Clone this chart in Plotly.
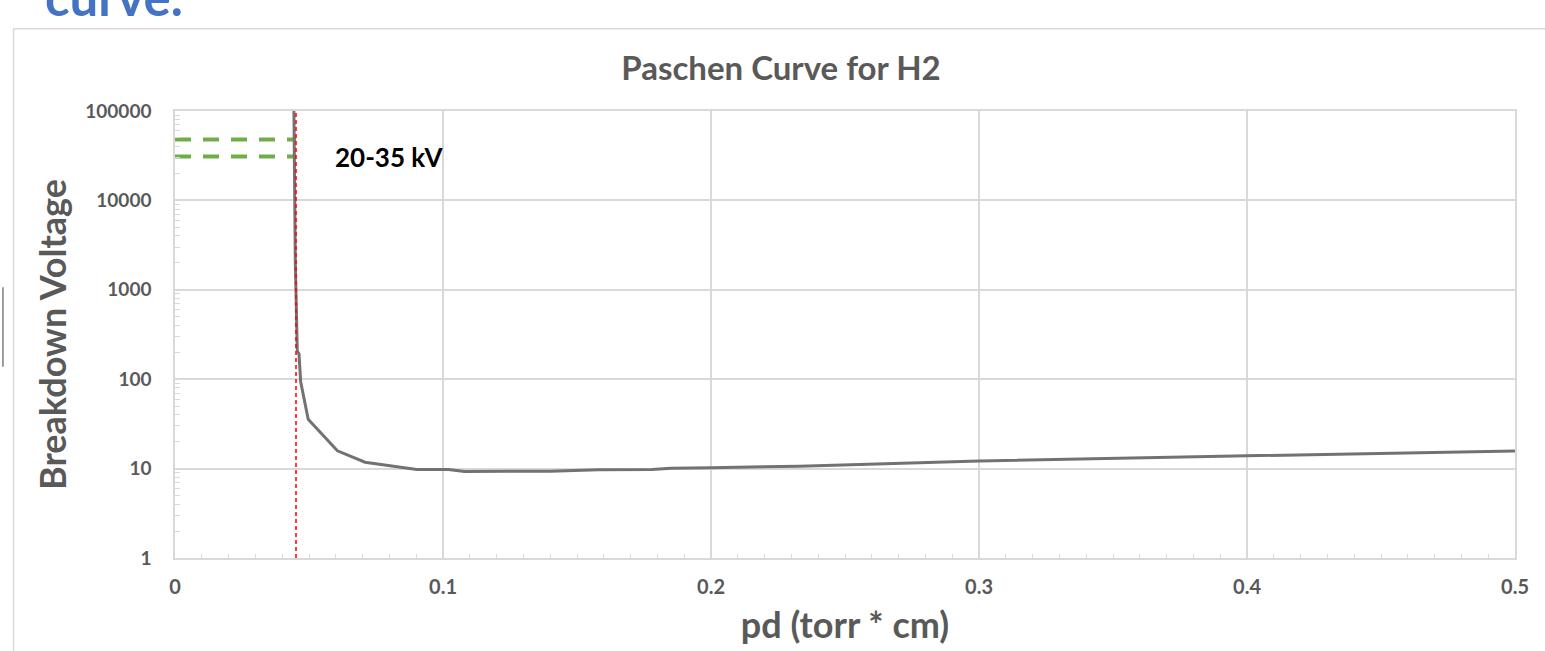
import plotly.graph_objects as go

# ---- data ----
pd_values = [0.04435, 0.04489, 0.04563, 0.04627, 0.0469, 0.0497, 0.0606, 0.0709,
             0.0902, 0.102, 0.108, 0.140, 0.158, 0.178, 0.185, 0.200, 0.233,
             0.300, 0.400, 0.500]
breakdown_v = [120000, 2030, 207, 192, 93.5, 35.6, 15.8, 11.8,
               9.8, 9.75, 9.3, 9.35, 9.7, 9.8, 10.1, 10.2, 10.65,
               12.2, 13.9, 15.7]

marker_x = [0.04515, 0.04515]
marker_y = [1, 100000]

green_x = [0.0, 0.0452]
green_upper = [48000, 48000]
green_lower = [31000, 31000]

y_tickvals = [1, 10, 100, 1000, 10000, 100000]
y_ticktext = ["1", "10", "100", "1000", "10000", "100000"]
x_tickvals = [0, 0.1, 0.2, 0.3, 0.4, 0.5]
x_ticktext = ["0", "0.1", "0.2", "0.3", "0.4", "0.5"]

FONT = "Lato"
GRAY = "#595959"
GRID = "#d9d9d9"

fig = go.Figure()

fig.add_trace(go.Scatter(x=green_x, y=green_upper, mode="lines",
                         line=dict(color="#70AD47", width=4, dash="16px,12px"),
                         hoverinfo="skip"))
fig.add_trace(go.Scatter(x=green_x, y=green_lower, mode="lines",
                         line=dict(color="#70AD47", width=4, dash="16px,12px"),
                         hoverinfo="skip"))
fig.add_trace(go.Scatter(x=pd_values, y=breakdown_v, mode="lines",
                         line=dict(color="#767171", width=3)))
fig.add_trace(go.Scatter(x=marker_x, y=marker_y, mode="lines",
                         line=dict(color="#FF0000", width=1.5, dash="4px,3px"),
                         hoverinfo="skip"))

fig.add_annotation(x=0.08, y=4.488, xref="x", yref="y", text="<b>20-35 kV</b>",
                   showarrow=False, xanchor="center", yanchor="middle",
                   font=dict(family=FONT, size=26, color="#000000"))

# slide text partially cut off at the top
fig.add_annotation(x=-0.0985, y=1.256, xref="paper", yref="paper", text="<b>curve.</b>",
                   showarrow=False, xanchor="left", yanchor="middle",
                   font=dict(family=FONT, size=51, color="#4472C4"))

# chart frame and slide artifacts
fig.add_shape(type="rect", xref="paper", yref="paper",
              x0=-0.1205, x1=1.05, y0=-0.3, y1=1.1838,
              line=dict(color=GRID, width=1.5), fillcolor="rgba(0,0,0,0)", layer="below")
fig.add_shape(type="line", xref="paper", yref="paper",
              x0=-0.1284, x1=-0.1284, y0=(560 - 368) / 449, y1=(560 - 288) / 449,
              line=dict(color="#7f7f7f", width=1.5))

fig.update_layout(
    width=1545, height=651,
    margin=dict(l=175, r=30, t=111, b=91),
    paper_bgcolor="white", plot_bgcolor="white",
    showlegend=False,
    title=dict(text="<b>Paschen Curve for H2</b>", xref="container", x=0.5055,
               xanchor="center", yref="container", y=0.8955, yanchor="middle",
               font=dict(family=FONT, size=33, color=GRAY)),
    xaxis=dict(range=[0, 0.5], tickmode="array", tickvals=x_tickvals, ticktext=x_ticktext,
               showgrid=True, gridcolor=GRID, gridwidth=1.5,
               showline=True, linecolor=GRID, linewidth=1.5, mirror=True,
               ticks="inside", ticklen=5, tickcolor=GRID, zeroline=False,
               minor=dict(dtick=0.01, ticks="inside", ticklen=4, tickcolor=GRID, showgrid=False),
               tickfont=dict(family=FONT, size=20, color=GRAY, weight="bold"),
               ticklabelstandoff=10,
               title=dict(text="<b>pd (torr * cm)</b>", standoff=16,
                          font=dict(family=FONT, size=36, color=GRAY))),
    yaxis=dict(type="log", range=[0, 5], tickmode="array", tickvals=y_tickvals, ticktext=y_ticktext,
               showgrid=True, gridcolor=GRID, gridwidth=1.5,
               showline=True, linecolor=GRID, linewidth=1.5, mirror=True,
               ticks="inside", ticklen=5, tickcolor=GRID, zeroline=False,
               minor=dict(dtick="D1", ticks="inside", ticklen=5, tickcolor=GRID, showgrid=False),
               tickfont=dict(family=FONT, size=19, color=GRAY, weight="bold"),
               ticklabelstandoff=18,
               title=dict(text="<b>Breakdown Voltage</b>", standoff=8,
                          font=dict(family=FONT, size=36, color=GRAY))),
)

fig.write_html("out.html")
